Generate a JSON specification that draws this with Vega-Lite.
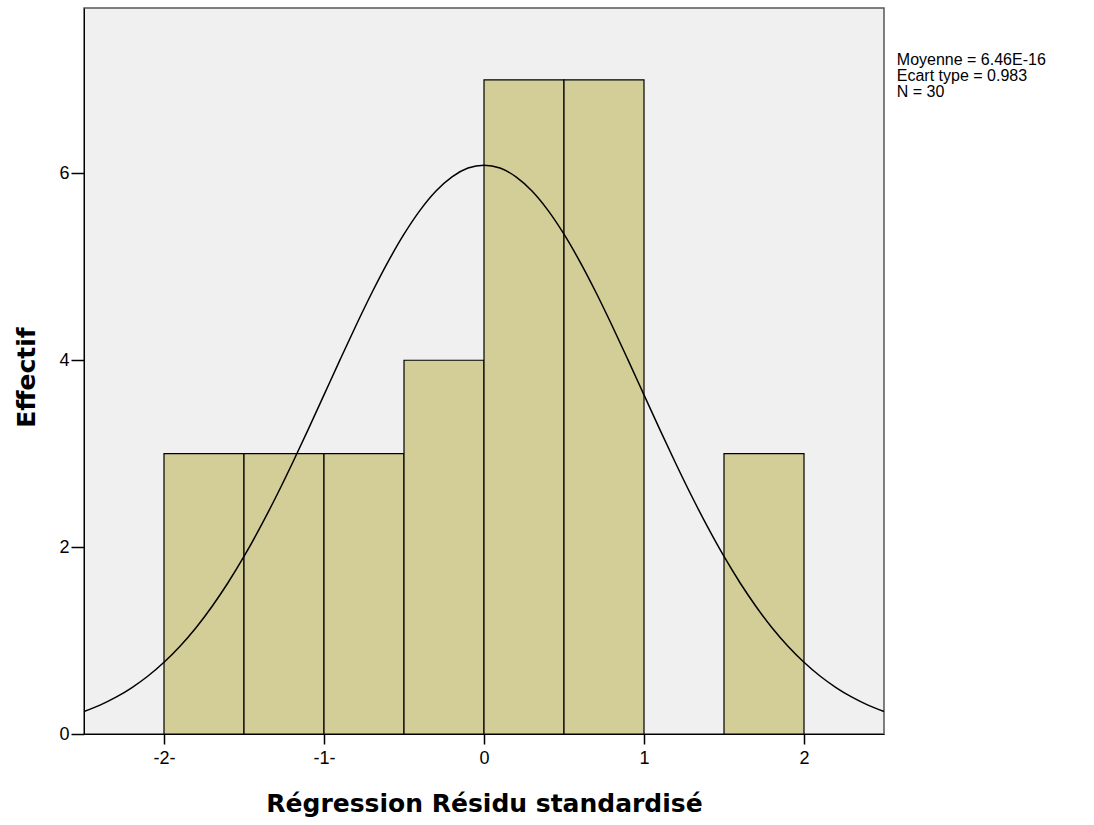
{
  "$schema": "https://vega.github.io/schema/vega-lite/v6.json",
  "width": 800,
  "height": 726,
  "autosize": "none",
  "padding": {"left": 84, "top": 8, "right": 210, "bottom": 91},
  "background": "white",
  "config": {
    "view": {"fill": "#F0F0F0", "stroke": "#555555", "strokeWidth": 1.5},
    "axis": {"grid": false, "labelFont": "Liberation Sans", "labelFontSize": 18, "labelColor": "black", "tickColor": "black", "tickWidth": 1.5, "domainColor": "black", "titleFont": "DejaVu Sans", "titleFontSize": 25, "titleFontWeight": "bold", "titleColor": "black"}
  },
  "datasets": {
    "bars": [
      {"start": -2.0, "end": -1.5, "count": 3},
      {"start": -1.5, "end": -1.0, "count": 3},
      {"start": -1.0, "end": -0.5, "count": 3},
      {"start": -0.5, "end": 0.0, "count": 4},
      {"start": 0.0, "end": 0.5, "count": 7},
      {"start": 0.5, "end": 1.0, "count": 7},
      {"start": 1.5, "end": 2.0, "count": 3}
    ],
    "curve": [
      {"x": -2.5, "y": 0.240}, {"x": -2.4, "y": 0.309}, {"x": -2.3, "y": 0.394}, {"x": -2.2, "y": 0.4975},
      {"x": -2.1, "y": 0.621}, {"x": -2.0, "y": 0.768}, {"x": -1.9, "y": 0.940}, {"x": -1.8, "y": 1.138},
      {"x": -1.7, "y": 1.365}, {"x": -1.6, "y": 1.619}, {"x": -1.5, "y": 1.900}, {"x": -1.4, "y": 2.208},
      {"x": -1.3, "y": 2.539}, {"x": -1.2, "y": 2.890}, {"x": -1.1, "y": 3.255}, {"x": -1.0, "y": 3.629},
      {"x": -0.9, "y": 4.004}, {"x": -0.8, "y": 4.372}, {"x": -0.7, "y": 4.725}, {"x": -0.6, "y": 5.053},
      {"x": -0.5, "y": 5.349}, {"x": -0.4, "y": 5.604}, {"x": -0.3, "y": 5.811}, {"x": -0.2, "y": 5.963},
      {"x": -0.1, "y": 6.057}, {"x": 0.0, "y": 6.088}, {"x": 0.1, "y": 6.057}, {"x": 0.2, "y": 5.963},
      {"x": 0.3, "y": 5.811}, {"x": 0.4, "y": 5.604}, {"x": 0.5, "y": 5.349}, {"x": 0.6, "y": 5.053},
      {"x": 0.7, "y": 4.725}, {"x": 0.8, "y": 4.372}, {"x": 0.9, "y": 4.004}, {"x": 1.0, "y": 3.629},
      {"x": 1.1, "y": 3.255}, {"x": 1.2, "y": 2.890}, {"x": 1.3, "y": 2.539}, {"x": 1.4, "y": 2.208},
      {"x": 1.5, "y": 1.900}, {"x": 1.6, "y": 1.619}, {"x": 1.7, "y": 1.365}, {"x": 1.8, "y": 1.138},
      {"x": 1.9, "y": 0.940}, {"x": 2.0, "y": 0.768}, {"x": 2.1, "y": 0.621}, {"x": 2.2, "y": 0.4975},
      {"x": 2.3, "y": 0.394}, {"x": 2.4, "y": 0.309}, {"x": 2.5, "y": 0.240}
    ],
    "stats": [
      {"x": 2.58, "y": 7.16, "label": ["Moyenne = 6.46E-16", "Ecart type = 0.983", "N = 30"]}
    ]
  },
  "layer": [
    {
      "data": {"name": "bars"},
      "mark": {"type": "rect", "fill": "#D3CE97", "stroke": "black", "strokeWidth": 1.2},
      "encoding": {
        "x": {"field": "start", "type": "quantitative", "scale": {"domain": [-2.5, 2.5], "nice": false, "zero": false},
              "axis": {"values": [-2, -1, 0, 1, 2], "title": "Régression Résidu standardisé", "labelExpr": "datum.value < 0 ? datum.value + '-' : datum.value + ''", "tickSize": 10, "labelPadding": 5, "titleX": 400, "titleY": 69, "titleBaseline": "middle"}},
        "x2": {"field": "end"},
        "y": {"field": "count", "type": "quantitative", "scale": {"domain": [0, 7.77], "nice": false},
              "axis": {"values": [0, 2, 4, 6], "format": "d", "title": "Effectif", "tickSize": 13, "labelPadding": 2, "titleX": -58, "titleY": 369, "titleAngle": -90, "titleBaseline": "middle", "titleAlign": "center"}},
        "y2": {"datum": 0}
      }
    },
    {
      "data": {"name": "curve"},
      "mark": {"type": "line", "color": "black", "strokeWidth": 1.5, "interpolate": "monotone"},
      "encoding": {
        "x": {"field": "x", "type": "quantitative"},
        "y": {"field": "y", "type": "quantitative"}
      }
    },
    {
      "data": {"name": "stats"},
      "mark": {"type": "text", "align": "left", "baseline": "alphabetic", "font": "Liberation Sans", "fontSize": 16, "lineHeight": 16, "color": "black"},
      "encoding": {
        "x": {"field": "x", "type": "quantitative"},
        "y": {"field": "y", "type": "quantitative"},
        "text": {"field": "label"}
      }
    }
  ]
}
